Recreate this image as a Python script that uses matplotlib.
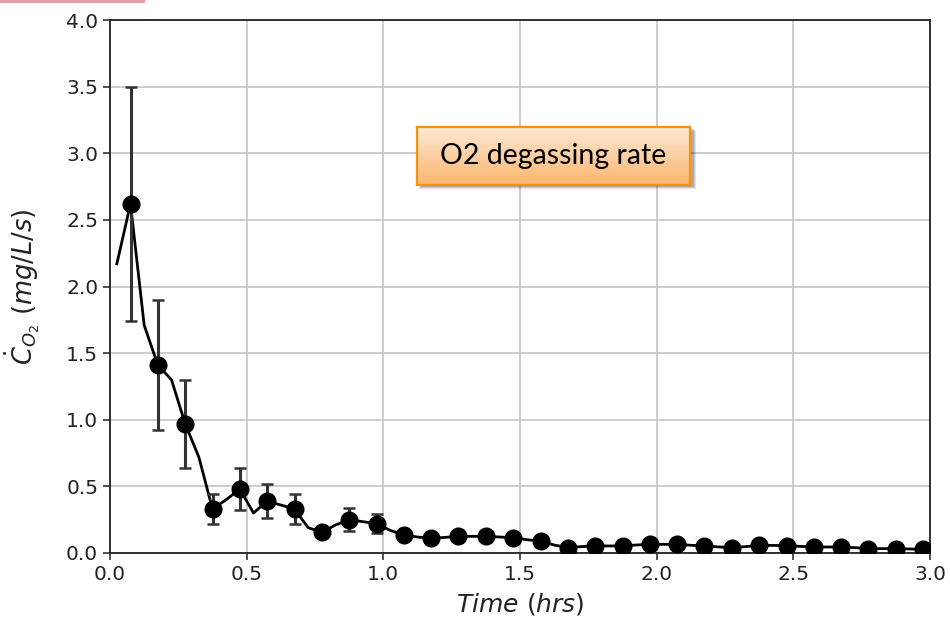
import numpy as np
import matplotlib
matplotlib.use("Agg")
import matplotlib.pyplot as plt
from matplotlib.patches import Rectangle
from matplotlib.lines import Line2D

# ---- data ----
line_t = [0.025, 0.075, 0.125, 0.175, 0.225, 0.275, 0.325, 0.375, 0.425, 0.475,
          0.525, 0.575, 0.625, 0.675, 0.725, 0.775, 0.825, 0.875, 0.925, 0.975,
          1.025, 1.075, 1.125, 1.175, 1.225, 1.275, 1.325, 1.375, 1.425, 1.475,
          1.525, 1.575, 1.625, 1.675, 1.725, 1.775, 1.825, 1.875, 1.925, 1.975,
          2.025, 2.075, 2.125, 2.175, 2.225, 2.275, 2.325, 2.375, 2.425, 2.475,
          2.525, 2.575, 2.625, 2.675, 2.725, 2.775, 2.825, 2.875, 2.925, 2.975, 3.025]
line_rate = [2.17, 2.62, 1.71, 1.41, 1.30, 0.97, 0.72, 0.33, 0.40, 0.48,
             0.30, 0.39, 0.36, 0.33, 0.19, 0.155, 0.21, 0.25, 0.235, 0.22,
             0.17, 0.135, 0.12, 0.11, 0.117, 0.125, 0.125, 0.125, 0.12, 0.115,
             0.10, 0.088, 0.06, 0.04, 0.048, 0.053, 0.053, 0.053, 0.06, 0.065,
             0.065, 0.065, 0.058, 0.053, 0.046, 0.04, 0.048, 0.057, 0.057, 0.055,
             0.05, 0.045, 0.045, 0.045, 0.04, 0.033, 0.033, 0.033, 0.03, 0.027, 0.025]

marker_t = [0.075, 0.175, 0.275, 0.375, 0.475, 0.575, 0.675, 0.775, 0.875, 0.975,
            1.075, 1.175, 1.275, 1.375, 1.475, 1.575, 1.675, 1.775, 1.875, 1.975,
            2.075, 2.175, 2.275, 2.375, 2.475, 2.575, 2.675, 2.775, 2.875, 2.975]
marker_rate = [2.62, 1.41, 0.97, 0.33, 0.48, 0.39, 0.33, 0.155, 0.25, 0.22,
               0.135, 0.11, 0.125, 0.125, 0.115, 0.088, 0.04, 0.053, 0.053, 0.065,
               0.065, 0.053, 0.04, 0.057, 0.055, 0.045, 0.045, 0.033, 0.033, 0.027]
marker_err = [0.88, 0.49, 0.33, 0.115, 0.16, 0.13, 0.115, 0.03, 0.088, 0.072,
              0.03, 0.025, 0.025, 0.025, 0.02, 0.02, 0.01, 0.01, 0.01, 0.01,
              0.01, 0.01, 0.01, 0.01, 0.01, 0.01, 0.01, 0.01, 0.01, 0.01]

x_ticks = [0.0, 0.5, 1.0, 1.5, 2.0, 2.5, 3.0]
y_ticks = [0.0, 0.5, 1.0, 1.5, 2.0, 2.5, 3.0, 3.5, 4.0]
annotation_text = "O2 degassing rate"

# ---- figure ----
W, H = 950, 620
fig = plt.figure(figsize=(W / 100, H / 100), dpi=100)
fig.patch.set_facecolor("white")

ax = fig.add_axes([110 / W, 1 - 553 / H, 820 / W, 533 / H])
ax.plot(line_t, line_rate, color="black", lw=2.0, zorder=3)
ax.errorbar(marker_t, marker_rate, yerr=marker_err, fmt="none", ecolor="#333333",
            elinewidth=2.2, capsize=4.5, capthick=1.8, zorder=4)
ax.plot(marker_t, marker_rate, "o", color="black", markersize=12, zorder=5)

ax.set_xlim(0, 3.0)
ax.set_ylim(0, 4.0)
ax.set_xticks(x_ticks)
ax.set_yticks(y_ticks)
ax.set_xticklabels([f"{v:.1f}" for v in x_ticks])
ax.set_yticklabels([f"{v:.1f}" for v in y_ticks])
ax.tick_params(labelsize=14.5, length=5, width=1.1, color="#222222", labelcolor="#222222")
ax.grid(True, color="#c8c8c8", lw=1.3)
ax.set_axisbelow(True)
for s in ax.spines.values():
    s.set_color("#222222")
    s.set_linewidth(1.3)

ax.set_xlabel(r"$Time\ (hrs)$", fontsize=18, color="#222222", labelpad=5)
ax.set_ylabel(r"$\dot{C}_{O_2}\ (mg/L/s)$", fontsize=18.5, color="#222222", labelpad=17)

# ---- annotation box with gradient + shadow ----
bx0, by0, bx1, by1 = 417, 127, 690, 185
for i, a in enumerate([0.10, 0.12, 0.15]):
    off = 4 - i
    fig.patches.append(Rectangle(((bx0 + 2 + i) / W, 1 - (by1 + off) / H),
                                 (bx1 - bx0 + off - i) / W, (by1 - by0) / H,
                                 transform=fig.transFigure, facecolor="black",
                                 edgecolor="none", alpha=a, zorder=8))
bax = fig.add_axes([bx0 / W, 1 - by1 / H, (bx1 - bx0) / W, (by1 - by0) / H], zorder=10)
top = np.array([253, 233, 212]) / 255
bot = np.array([250, 182, 110]) / 255
grad = np.linspace(0, 1, 64)[:, None, None]
img = top + (bot - top) * grad
bax.imshow(img, aspect="auto", extent=[0, 1, 0, 1], origin="upper")
bax.set_xlim(0, 1)
bax.set_ylim(0, 1)
bax.set_xticks([])
bax.set_yticks([])
for s in bax.spines.values():
    s.set_color("#f5930f")
    s.set_linewidth(1.6)
bax.text(0.5, 0.5, annotation_text, ha="center", va="center", fontsize=20.5,
         family=["Lato", "DejaVu Sans"], color="black")

# pink line at top-left
fig.add_artist(Line2D([0, 143 / W], [1 - 1 / H, 1 - 1 / H], color="#e8959b", lw=2,
                      transform=fig.transFigure))

fig.savefig("out.png", dpi=100)
